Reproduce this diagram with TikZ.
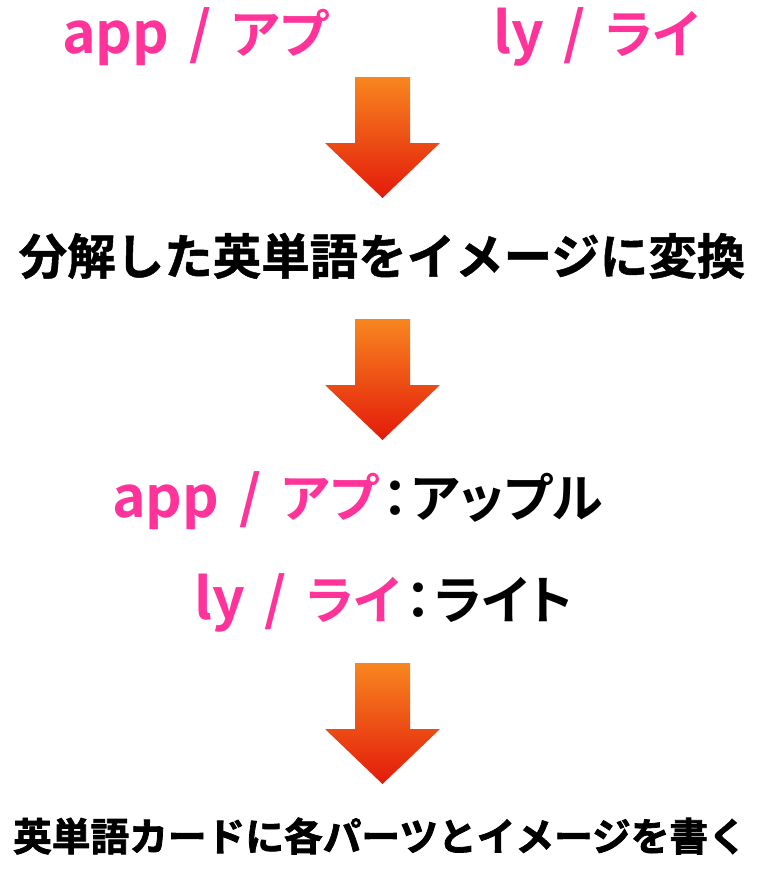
\documentclass[tikz,border=0pt]{standalone}
\usepackage{fontspec}
\setmainfont{Noto Sans CJK JP Bold}
\definecolor{pinkt}{HTML}{FF3399}
\definecolor{arrtop}{HTML}{F8861F}
\definecolor{arrbot}{HTML}{E31A0B}
\newcommand{\lat}[1]{{\fontsize{57}{57}\selectfont #1}}
\newcommand{\pinkapp}{\textcolor{pinkt}{\lat{app\hspace{0.35em}/\hspace{0.35em}}アプ}}
\newcommand{\pinkly}{\textcolor{pinkt}{\lat{ly\hspace{0.35em}/\hspace{0.35em}}ライ}}
\newcommand{\jcolon}{\kern5pt：\kern3pt}
\tikzset{
  rowtext/.style={text=black, inner sep=0pt, anchor=base west, font=\fontsize{52}{52}\selectfont\addfontfeatures{RawFeature=+palt}},
  blacktext/.style={text=black, inner sep=0pt},
  bigarrow/.pic={
    \shade[top color=arrtop, bottom color=arrbot]
      (-27.5,0) -- (27.5,0) -- (27.5,66) -- (57.5,66) -- (0,121) -- (-57.5,66) -- (-27.5,66) -- cycle;
  }
}
\begin{document}
\begin{tikzpicture}[x=1pt,y=-1pt]
\useasboundingbox[fill=white] (0,0) rectangle (768,889);
\node[rowtext] (t1a) at (62,53) {\pinkapp};
\node[rowtext] (t1b) at (493,53) {\pinkly};
\pic at (382.5,77) {bigarrow};
\node[blacktext, font=\fontsize{48.5}{48.5}\selectfont\addfontfeature{FakeBold=1}] (t2) at (382,256) {分解した英単語をイメージに変換};
\pic at (382.5,319) {bigarrow};
\node[rowtext] (t3) at (112,517) {\pinkapp\jcolon アップル};
\node[rowtext] (t4) at (194,619) {\pinkly\jcolon ライト};
\pic at (382.5,663) {bigarrow};
\node[blacktext, font=\fontsize{38.7}{38.7}\selectfont\addfontfeature{FakeBold=2}] (t5) at (380,836) {英単語カードに各パーツとイメージを書く};
\end{tikzpicture}
\end{document}
